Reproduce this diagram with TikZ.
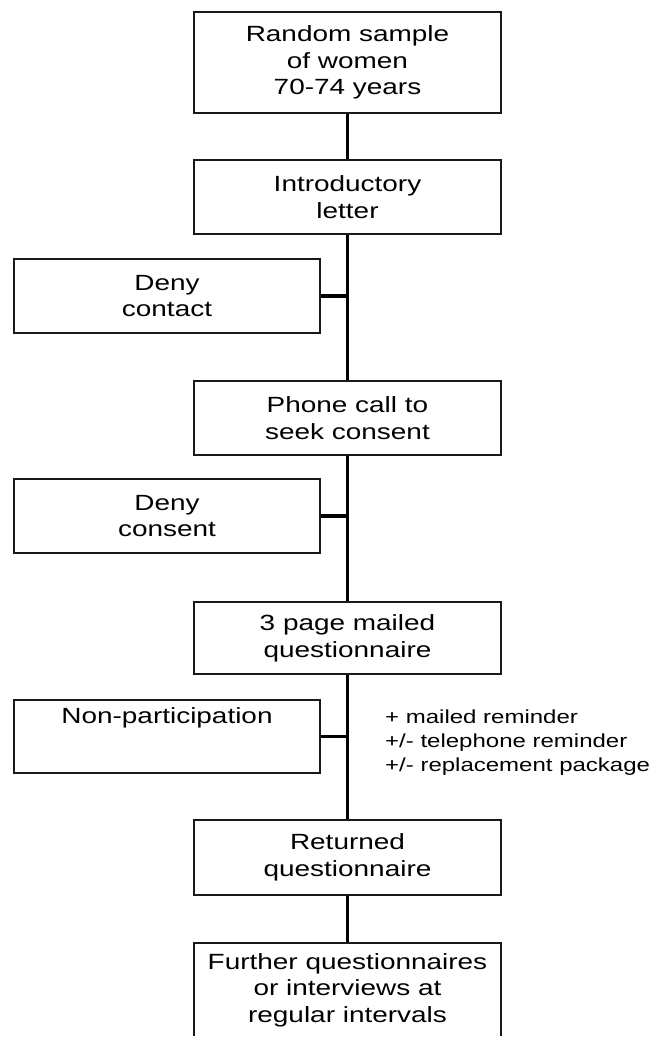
\documentclass[tikz,border=0pt]{standalone}
\usepackage{fontspec}
\setmainfont{Liberation Sans}[FakeStretch=1.27]
\begin{document}
\begin{tikzpicture}[x=1pt,y=-1pt,
  stepbox/.style={draw=black!90, line width=2pt, align=center, inner sep=0pt,
    font=\fontsize{22}{26.7}\selectfont},
  mainbox/.style={stepbox, minimum width=307pt},
  sidebox/.style={stepbox, minimum width=306pt},
  conn/.style={line width=3.4pt, black},
  note/.style={align=left, inner sep=0pt, font=\fontsize{18.9}{24}\selectfont}]
\useasboundingbox (0,0) rectangle (651,1037);
\clip (0,0) rectangle (651,1035.5);
\node[mainbox, minimum height=101pt] (b1) at (347.5,62.5) {Random sample\\of women\\70-74 years};
\node[mainbox, minimum height=74pt] (b2) at (347.5,197) {Introductory\\letter};
\node[sidebox, minimum height=74pt] (dc) at (167,296) {Deny\\contact};
\node[mainbox, minimum height=74pt] (ph) at (347.5,418) {Phone call to\\seek consent};
\node[sidebox, minimum height=74pt] (dcs) at (167,516) {Deny\\consent};
\node[mainbox, minimum height=72pt] (q3) at (347.5,638) {3 page mailed\\questionnaire};
\node[sidebox, minimum height=73pt] (np) at (167,736.5) {};
\node[font=\fontsize{22}{26.7}\selectfont, inner sep=0pt] (npt) at (167,718) {Non-participation};
\node[mainbox, minimum height=75pt] (ret) at (347.5,857.5) {Returned\\questionnaire};
\node[mainbox, minimum height=94pt] (fur) at (347.5,990) {Further questionnaires\\or interviews at\\regular intervals};
\node[note, anchor=west] (nt) at (385,743) {+ mailed reminder\\+/- telephone reminder\\+/- replacement package};
\draw[conn] (b1) -- (b2);
\draw[conn] (b2) -- (ph);
\draw[conn] (ph) -- (q3);
\draw[conn] (q3) -- (ret);
\draw[conn] (ret) -- (fur);
\draw[conn] (dc.east) -- (dc.east -| b2.south);
\draw[conn] (dcs.east) -- (dcs.east -| ph.south);
\draw[conn] (np.east) -- (np.east -| q3.south);
\end{tikzpicture}
\end{document}
